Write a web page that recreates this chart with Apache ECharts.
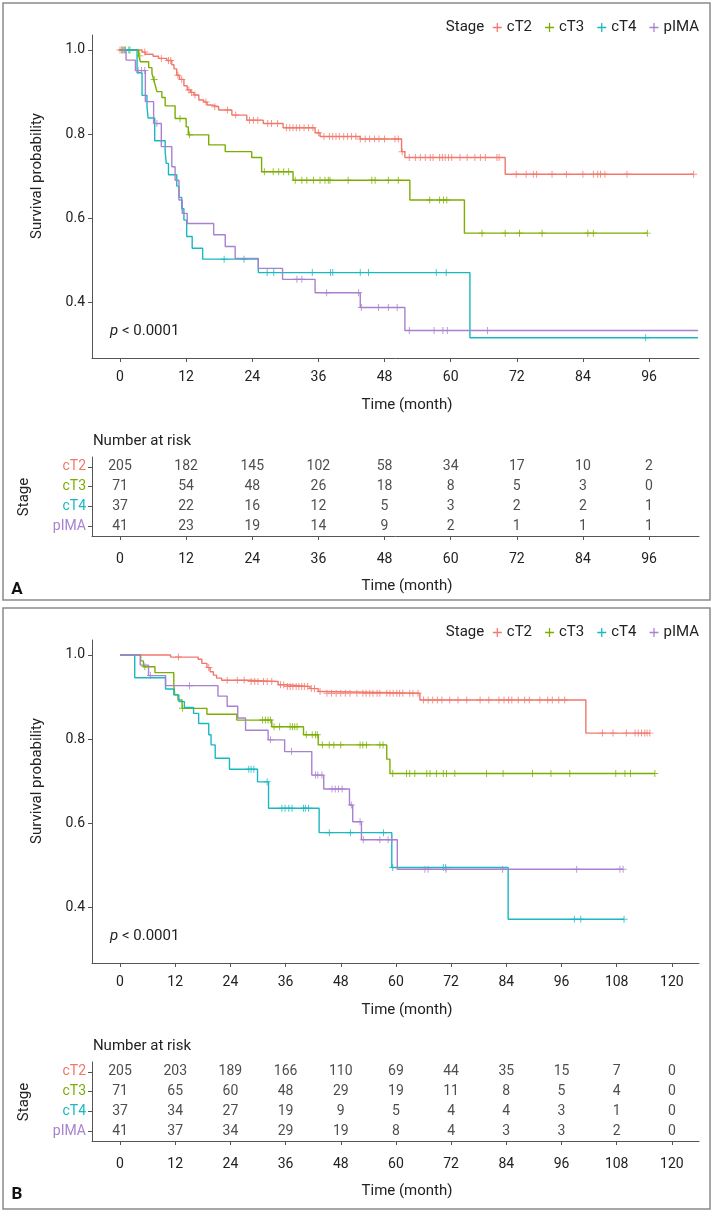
<!DOCTYPE html>
<html><head><meta charset="utf-8">
<script src="https://cdn.jsdelivr.net/npm/echarts@6/dist/echarts.min.js"></script>
<style>html,body{margin:0;padding:0;background:#fff}#c{width:714px;height:1215px}</style>
</head><body><div id="c"></div>
<script>
const groups = ['cT2','cT3','cT4','pIMA'];
const colors = ['#f1786c','#7cae00','#19b8c2','#a981d0'];

// ---------- Panel A ----------
const A_ticks = [0,12,24,36,48,60,72,84,96];
const A_cT2_steps = [[0,1],[4.0,0.995],[4.6,0.990],[6.0,0.985],[7.0,0.980],[8.5,0.975],[9.4,0.965],[9.8,0.955],[10.3,0.940],[10.8,0.930],[11.6,0.915],[12.2,0.905],[12.8,0.899],[13.4,0.893],[14.3,0.881],[15.2,0.876],[15.8,0.869],[16.7,0.865],[17.9,0.857],[20.3,0.845],[23.0,0.833],[26.0,0.825],[29.6,0.815],[35.4,0.803],[36.3,0.794],[43.6,0.788],[51.1,0.758],[51.7,0.744],[69.9,0.704]];
const A_cT2_cens = [0,0.3,0.6,4.5,7.5,8.8,9.2,10.5,11.2,12.5,13.0,13.6,15.6,17.2,19.5,21.0,23.5,24.2,25.0,26.8,27.5,28.6,30.2,30.8,31.4,32.0,32.6,33.4,34.2,35.0,36.0,37.0,38.0,38.6,39.2,39.8,40.6,41.3,42.0,42.8,43.6,44.5,45.3,46.2,47.0,48.0,49.9,50.5,51.2,52.5,53.6,54.5,55.4,56.3,56.8,58.0,58.5,59.0,59.6,60.2,61.7,63.0,64.4,65.4,66.3,68.4,68.8,71.9,73.7,75.0,75.6,78.4,81.0,84.0,85.9,86.7,87.2,88.0,92.0,104.1];
const A_cT3_steps = [[0,1],[3.4,0.986],[3.7,0.972],[5.2,0.958],[5.8,0.944],[6.1,0.930],[6.4,0.916],[6.7,0.901],[7.6,0.887],[8.2,0.867],[10.0,0.837],[12.0,0.817],[12.4,0.798],[16.1,0.774],[19.1,0.758],[23.9,0.744],[25.7,0.710],[31.4,0.690],[52.6,0.643],[62.5,0.564]];
const A_cT3_cens = [0.4,1.0,1.8,3.6,6.2,10.9,12.6,26.2,27.8,28.8,29.7,30.6,31.8,33.0,33.9,35.1,36.3,37.2,37.8,38.1,41.4,45.7,46.3,48.7,50.5,56.2,58.0,58.7,59.3,65.7,69.9,72.5,76.6,84.9,85.9,95.7];
const A_cT4_steps = [[0,1],[3.1,0.946],[4.0,0.892],[4.9,0.865],[5.1,0.838],[6.3,0.784],[8.2,0.757],[8.4,0.730],[8.8,0.703],[10.3,0.676],[10.7,0.649],[11.2,0.622],[11.6,0.595],[12.1,0.556],[13.1,0.528],[15.0,0.502],[25.1,0.470],[63.5,0.315]];
const A_cT4_cens = [0.8,1.6,18.9,22.5,26.7,27.9,34.9,38.2,38.6,43.6,45.1,57.4,59.2,95.4];
const A_pIMA_steps = [[0,1],[1.1,0.976],[2.8,0.951],[4.6,0.877],[6.1,0.825],[7.5,0.770],[9.4,0.722],[10.0,0.690],[10.7,0.643],[11.3,0.611],[12.2,0.587],[17.0,0.560],[19.1,0.532],[20.9,0.504],[25.1,0.480],[29.5,0.454],[35.4,0.422],[43.6,0.387],[51.7,0.332]];
const A_pIMA_cens = [3.3,3.9,4.5,6.7,32.1,33.0,37.5,43.3,43.8,46.9,48.7,50.3,52.5,57.0,58.6,59.4,66.7];
const A_end = [104.1, 95.7, 104.9, 104.9];
const A_risk_cT2 = [205,182,145,102,58,34,17,10,2];
const A_risk_cT3 = [71,54,48,26,18,8,5,3,0];
const A_risk_cT4 = [37,22,16,12,5,3,2,2,1];
const A_risk_pIMA = [41,23,19,14,9,2,1,1,1];

// ---------- Panel B ----------
const B_ticks = [0,12,24,36,48,60,72,84,96,108,120];
const B_cT2_steps = [[0,1],[11.0,0.995],[17.0,0.990],[17.8,0.980],[18.9,0.970],[19.6,0.960],[20.3,0.952],[21.0,0.945],[22.1,0.940],[28.0,0.937],[34.4,0.929],[36.0,0.925],[41.3,0.920],[43.1,0.913],[44.6,0.909],[65.2,0.893],[101.3,0.814]];
const B_cT2_cens = [12.7,19.3,23.3,25.5,27.0,28.5,29.3,30.0,31.2,32.0,33.0,34.9,35.6,36.4,37.0,37.6,38.3,38.9,39.5,40.1,40.8,41.6,42.3,43.5,45.0,46.0,47.0,48.0,49.0,50.0,51.5,52.8,53.5,54.3,55.0,55.9,56.5,58.0,58.7,59.4,60.2,60.8,61.5,63.0,63.7,64.8,66.0,67.0,68.0,69.0,70.0,71.7,73.5,75.4,78.3,80.2,82.4,83.5,84.5,85.2,86.6,88.0,89.0,91.3,93.0,94.0,95.4,96.7,104.9,107.2,110.1,112.0,112.7,113.4,114.1,114.6,115.2];
const B_cT3_steps = [[0,1],[4.5,0.986],[5.1,0.972],[7.6,0.958],[11.7,0.930],[11.9,0.905],[12.6,0.893],[13.5,0.873],[18.9,0.859],[25.4,0.845],[33.0,0.829],[39.9,0.810],[43.1,0.786],[58.0,0.752],[58.7,0.718]];
const B_cT3_cens = [5.4,13.6,31.0,31.6,32.2,32.7,33.5,34.7,37.0,37.5,38.0,38.5,40.5,41.8,42.5,42.9,44.0,45.5,46.5,48.0,52.2,52.8,53.6,56.5,57.2,59.3,62.3,63.0,64.1,66.7,67.4,68.8,70.3,71.0,72.8,79.7,83.3,89.7,93.7,97.8,107.8,109.8,111.0,116.3];
const B_cT4_steps = [[0,1],[3.2,0.946],[9.9,0.919],[11.7,0.905],[12.8,0.889],[14.0,0.875],[16.0,0.861],[17.1,0.837],[19.3,0.810],[19.8,0.786],[20.7,0.754],[23.8,0.728],[29.9,0.698],[32.3,0.635],[43.3,0.577],[59.1,0.494],[84.4,0.371]];
const B_cT4_cens = [28.0,28.5,29.1,32.0,35.2,35.9,36.7,37.4,39.9,40.3,41.0,45.5,50.1,57.3,59.3,70.3,70.8,98.8,100.2,109.6];
const B_pIMA_steps = [[0,1],[4.4,0.976],[6.2,0.951],[9.9,0.927],[21.3,0.902],[23.3,0.878],[25.6,0.850],[27.3,0.821],[32.2,0.798],[35.8,0.770],[41.7,0.714],[44.3,0.681],[49.9,0.643],[50.6,0.603],[52.5,0.560],[60.3,0.490]];
const B_pIMA_cens = [6.6,15.1,32.7,37.3,42.5,43.0,43.9,46.1,46.8,47.5,48.3,50.3,52.2,52.9,56.5,58.3,59.1,66.3,67.0,70.9,83.2,99.3,108.7,109.4];
const B_end = [115.2, 116.3, 109.6, 109.4];
const B_risk_cT2 = [205,203,189,166,110,69,44,35,15,7,0];
const B_risk_cT3 = [71,65,60,48,29,19,11,8,5,4,0];
const B_risk_cT4 = [37,34,27,19,9,5,4,4,3,1,0];
const B_risk_pIMA = [41,37,34,29,19,8,4,3,3,2,0];

const yTicks = [0.4,0.6,0.8,1.0];
const FONT = 'Roboto';
const PLUS = 'path://M4.3,0L5.7,0L5.7,4.3L10,4.3L10,5.7L5.7,5.7L5.7,10L4.3,10L4.3,5.7L0,5.7L0,4.3L4.3,4.3Z';

function survAt(steps, t) {
  let s = steps[0][1];
  for (const p of steps) { if (p[0] <= t) s = p[1]; }
  return s;
}

const panels = [
  { steps: [A_cT2_steps, A_cT3_steps, A_cT4_steps, A_pIMA_steps],
    cens: [A_cT2_cens, A_cT3_cens, A_cT4_cens, A_pIMA_cens], end: A_end,
    risk: [A_risk_cT2, A_risk_cT3, A_risk_cT4, A_risk_pIMA], ticks: A_ticks,
    xmin: -5.08, xmax: 105.07, top: 35, ttop: 457 },
  { steps: [B_cT2_steps, B_cT3_steps, B_cT4_steps, B_pIMA_steps],
    cens: [B_cT2_cens, B_cT3_cens, B_cT4_cens, B_pIMA_cens], end: B_end,
    risk: [B_risk_cT2, B_risk_cT3, B_risk_cT4, B_risk_pIMA], ticks: B_ticks,
    xmin: -6.09, xmax: 125.9, top: 640, ttop: 1062 }
];

const axisLine = { show: true, onZero: false, lineStyle: { color: '#555', width: 1 } };
const axisTick = { show: true, length: 4, lineStyle: { color: '#555', width: 1 } };
const lbl = { color: '#222', fontSize: 14, fontFamily: FONT };

const grid = [], xAxis = [], yAxis = [], series = [], legend = [];
panels.forEach((P, pi) => {
  const g0 = grid.length;
  grid.push({ left: 92, top: P.top, width: 607, height: 323 });
  grid.push({ left: 92, top: P.ttop, width: 607, height: 79 });
  [0, 1].forEach(k => {
    xAxis.push({ type: 'value', gridIndex: g0 + k, min: P.xmin, max: P.xmax,
      axisLine, splitLine: { show: false },
      axisTick: Object.assign({ customValues: P.ticks }, axisTick),
      axisLabel: Object.assign({ customValues: P.ticks, margin: k ? 16 : 12 }, lbl) });
  });
  yAxis.push({ type: 'value', gridIndex: g0, min: 0.2667, max: 1.0357,
    axisLine, splitLine: { show: false },
    axisTick: Object.assign({ customValues: yTicks }, axisTick),
    axisLabel: Object.assign({ customValues: yTicks, margin: 7, formatter: v => v.toFixed(1) }, lbl) });
  yAxis.push({ type: 'category', gridIndex: g0 + 1, data: groups, inverse: true,
    axisLine, axisTick: Object.assign({ alignWithLabel: true }, axisTick),
    axisLabel: Object.assign({}, lbl, { margin: 6, color: (v, i) => colors[groups.indexOf(v)] }) });

  groups.forEach((g, gi) => {
    const st = P.steps[gi];
    const last = st[st.length - 1][1];
    series.push({ name: g, type: 'line', step: 'end', xAxisIndex: g0, yAxisIndex: g0,
      data: st.concat([[P.end[gi], last]]), showSymbol: false, symbol: 'none',
      lineStyle: { color: colors[gi], width: 1.4 }, itemStyle: { color: colors[gi] },
      silent: true, z: 2 + gi });
    series.push({ name: g + '_c', type: 'scatter', xAxisIndex: g0, yAxisIndex: g0,
      data: P.cens[gi].map(t => [t, survAt(st, t)]), symbol: PLUS, symbolSize: 7,
      itemStyle: { color: colors[gi] }, silent: true, z: 2 + gi });
    series.push({ name: g + '_r', type: 'scatter', xAxisIndex: g0 + 1, yAxisIndex: g0 + 1,
      data: P.risk[gi].map((v, i) => [P.ticks[i], gi, v]), symbolSize: 1,
      itemStyle: { color: 'rgba(0,0,0,0)' }, silent: true,
      label: { show: true, position: 'inside', formatter: p => String(p.value[2]),
        color: '#222', fontSize: 14, fontFamily: FONT } });
  });
  legend.push({ top: P.top - 20, right: 10, selectedMode: false, itemWidth: 9, itemHeight: 9,
    itemGap: 13, textStyle: { color: '#222', fontSize: 15, fontFamily: FONT },
    data: groups.map(g => ({ name: g, icon: PLUS })) });
});

const graphic = [];
const txt = (x, y, text, opts) => Object.assign({ type: 'text', x, y,
  style: Object.assign({ text, fill: '#222', fontSize: 15, fontFamily: FONT, align: 'center', verticalAlign: 'middle' }, opts || {}) });
[0, 605].forEach((off, pi) => {
  graphic.push({ type: 'rect', shape: { x: 3, y: 3 + off, width: 707, height: 597 + (pi ? 4 : 0) },
    style: { fill: 'none', stroke: '#8a8a8a', lineWidth: 1.5 } });
  graphic.push(txt(465, 27 + off, 'Stage'));
  graphic.push(txt(407, 405 + off, 'Time (month)'));
  graphic.push(txt(407, 586 + off, 'Time (month)'));
  graphic.push(txt(142, 441 + off, 'Number at risk'));
  graphic.push(Object.assign(txt(0, 0, 'Survival probability'), { x: 37, y: 176 + off, rotation: Math.PI / 2 }));
  graphic.push(Object.assign(txt(0, 0, 'Stage'), { x: 24, y: 497 + off, rotation: Math.PI / 2 }));
  graphic.push({ type: 'text', x: 110, y: 331 + off, style: { text: '{i|p} < 0.0001', fill: '#222', fontSize: 15,
    fontFamily: FONT, verticalAlign: 'middle', rich: { i: { fontStyle: 'italic', fontSize: 15, fontFamily: FONT, fill: '#222' } } } });
  graphic.push(txt(17, 590 + off, pi ? 'B' : 'A', { fontWeight: 'bold', fontSize: 17, fill: '#111' }));
});

const chart = echarts.init(document.getElementById('c'), null, { renderer: 'canvas' });
chart.setOption({ animation: false, backgroundColor: '#fff', grid, xAxis, yAxis, series, legend, graphic });
</script></body></html>
